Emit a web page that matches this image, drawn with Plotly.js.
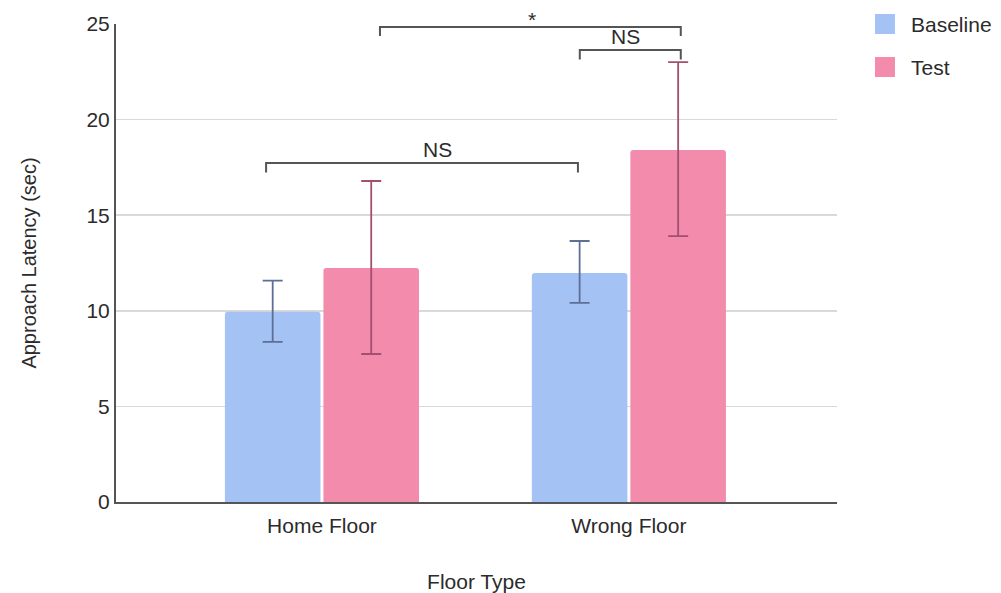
<!DOCTYPE html>
<html>
<head>
<meta charset="utf-8">
<script src="https://cdn.plot.ly/plotly-3.0.1.min.js"></script>
<style>html,body{margin:0;padding:0;background:#fff;}#chart{width:1001px;height:593px;}</style>
</head>
<body>
<div id="chart"></div>
<script>
const categories = ["Home Floor", "Wrong Floor"];
const baselineValues = [9.95, 11.98];
const baselineErrPlus = [1.63, 1.67];
const baselineErrMinus = [1.58, 1.57];
const testValues = [12.24, 18.41];
const testErrPlus = [4.55, 4.6];
const testErrMinus = [4.5, 4.5];
const seriesNames = ["Baseline", "Test"];
const seriesColors = ["#a4c2f4", "#f38bad"];
const errorColors = ["#5e6f96", "#a24f70"];
const yTicks = [0, 5, 10, 15, 20, 25];

const FONT = "Liberation Sans, Arial, sans-serif";
const TXT = "#2b2b2b";

const traces = [
  {
    type: "bar", name: seriesNames[0], x: categories, y: baselineValues,
    marker: {color: seriesColors[0]}, showlegend: false,
    error_y: {type: "data", symmetric: false, array: baselineErrPlus, arrayminus: baselineErrMinus,
      color: errorColors[0], thickness: 1.8, width: 10}
  },
  {
    type: "bar", name: seriesNames[1], x: categories, y: testValues,
    marker: {color: seriesColors[1]}, showlegend: false,
    error_y: {type: "data", symmetric: false, array: testErrPlus, arrayminus: testErrMinus,
      color: errorColors[1], thickness: 1.8, width: 10}
  }
];

const bracketColor = "#555555";
function bracket(x0, x1, y, drop) {
  return {
    type: "path", xref: "x", yref: "y",
    path: `M ${x0} ${y - drop} L ${x0} ${y} L ${x1} ${y} L ${x1} ${y - drop}`,
    line: {color: bracketColor, width: 2}
  };
}

// custom legend (larger swatches as in the reference)
const legendShapes = [];
const legendAnns = [];
seriesNames.forEach((name, i) => {
  const yc = 1.0 - i * 0.09;
  legendShapes.push({
    type: "rect", xref: "paper", yref: "paper",
    x0: 1.0527, x1: 1.0804, y0: yc - 0.0209, y1: yc + 0.0209,
    fillcolor: seriesColors[i], line: {width: 0}
  });
  legendAnns.push({
    xref: "paper", yref: "paper", x: 1.1, y: yc, xanchor: "left", yanchor: "middle",
    text: name, showarrow: false, font: {size: 21, family: FONT, color: TXT}
  });
});

const layout = {
  width: 1001, height: 593,
  margin: {l: 116, r: 164, t: 24, b: 91},
  paper_bgcolor: "#ffffff", plot_bgcolor: "#ffffff",
  font: {family: FONT, color: TXT, size: 21},
  showlegend: false,
  barmode: "group", bargap: 0.358, bargroupgap: 0.03, barcornerradius: 3,
  xaxis: {
    type: "category", range: [-0.671, 1.678],
    showline: true, linecolor: "#555555", linewidth: 2,
    ticks: "", tickfont: {size: 21, family: FONT, color: TXT}, ticklabelstandoff: 4,
    title: {text: "Floor Type", font: {size: 21, family: FONT, color: TXT}, standoff: 38},
    showgrid: false, zeroline: false
  },
  yaxis: {
    range: [0, 25], tickvals: yTicks, ticktext: yTicks.map(String),
    showline: true, linecolor: "#555555", linewidth: 2,
    gridcolor: "#d9d9d9", gridwidth: 1.5, zeroline: false,
    tickfont: {size: 21, family: FONT, color: TXT}, ticks: "", ticklen: 0,
    title: {text: "Approach Latency (sec)", font: {size: 20, family: FONT, color: TXT}, standoff: 44}
  },
  shapes: [
    bracket(-0.182, 0.834, 17.73, 0.5),
    bracket(0.189, 1.169, 24.84, 0.47),
    bracket(0.840, 1.169, 23.64, 0.5)
  ].concat(legendShapes),
  annotations: [
    {x: 0.378, y: 17.73, xref: "x", yref: "y", text: "NS", showarrow: false, yanchor: "bottom", yshift: 0, font: {size: 21, family: FONT, color: TXT}},
    {x: 0.684, y: 24.84, xref: "x", yref: "y", text: "*", showarrow: false, yanchor: "bottom", yshift: -6, font: {size: 21, family: FONT, color: TXT}},
    {x: 0.99, y: 23.64, xref: "x", yref: "y", text: "NS", showarrow: false, yanchor: "bottom", yshift: 0, font: {size: 21, family: FONT, color: TXT}}
  ].concat(legendAnns)
};

Plotly.newPlot("chart", traces, layout, {displayModeBar: false, staticPlot: true});
</script>
</body>
</html>
